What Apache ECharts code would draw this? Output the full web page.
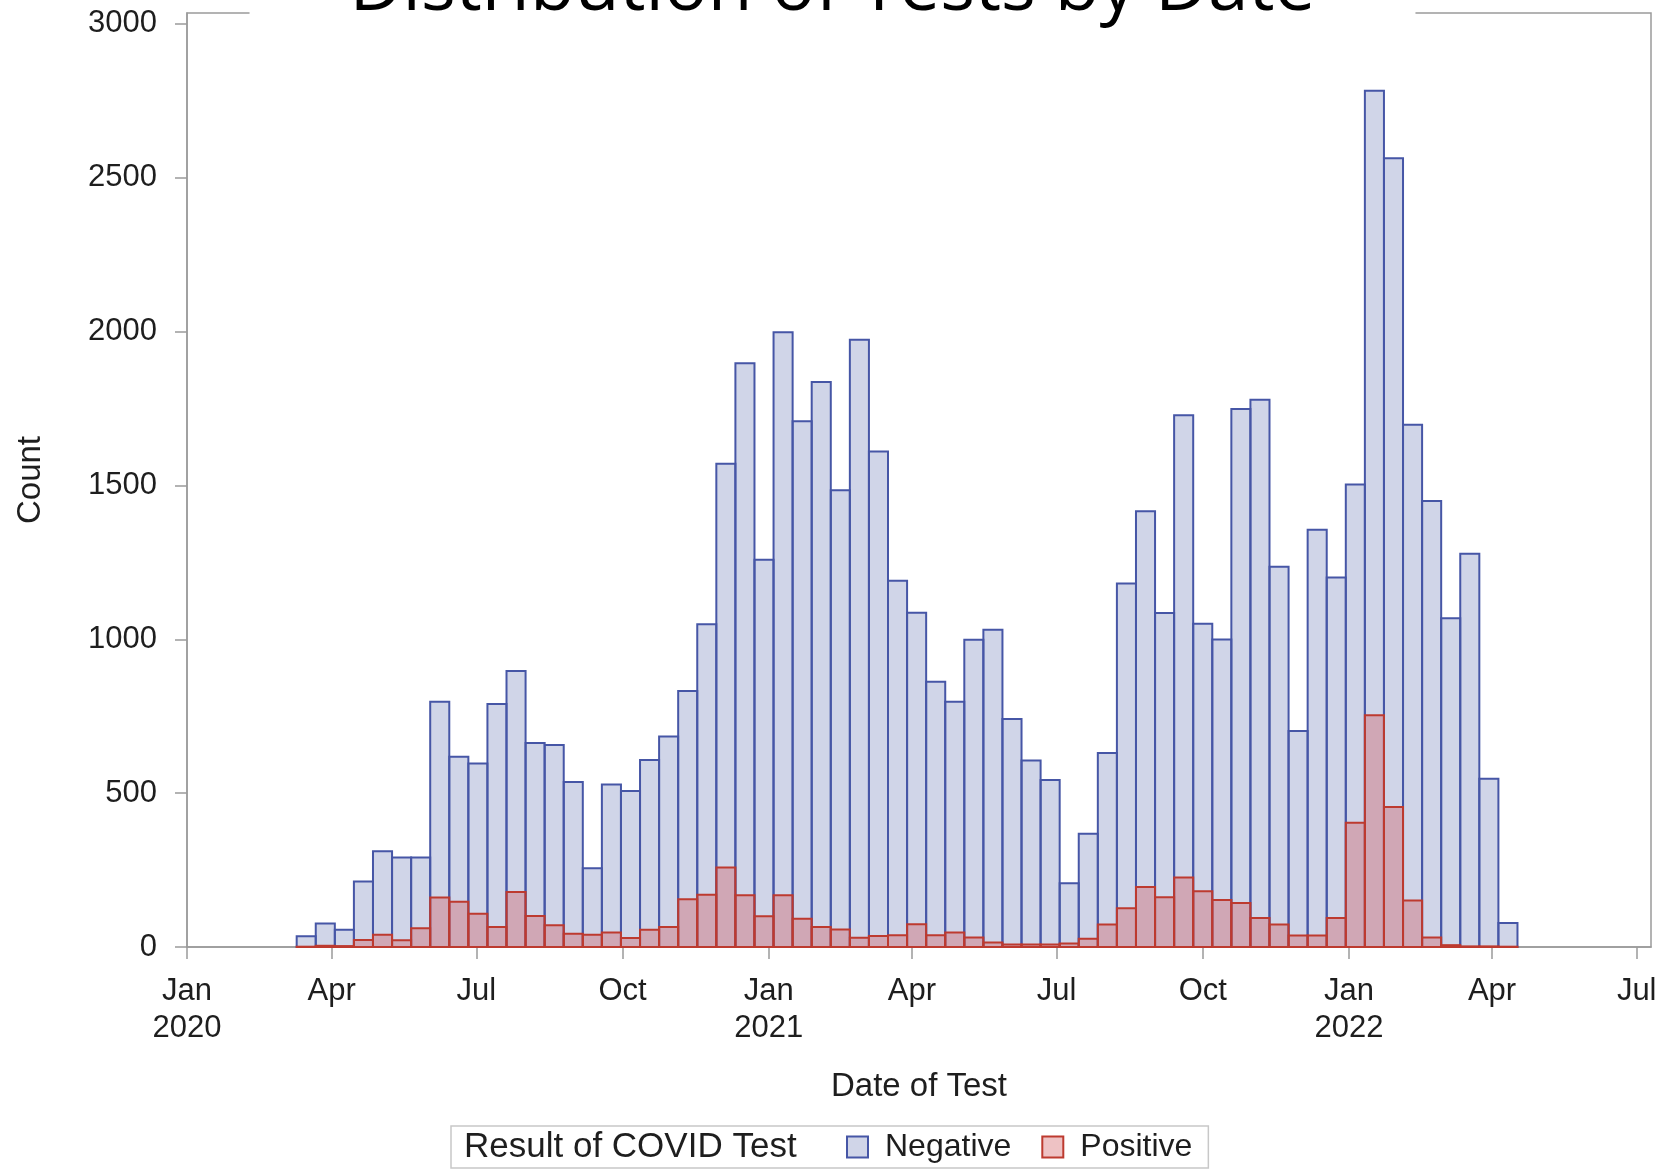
<!DOCTYPE html>
<html>
<head>
<meta charset="utf-8">
<title>Distribution of Tests by Date</title>
<script src="https://cdn.jsdelivr.net/npm/echarts@6/dist/echarts.min.js"></script>
<style>
  html, body { margin: 0; padding: 0; background: #fff; }
  #chart { width: 1665px; height: 1171px; }
</style>
</head>
<body>
<div id="chart"></div>
<script>
// Histogram bin edges (12-day bins), one more edge than bins
const binEdges = [
  '2020-03-10','2020-03-22','2020-04-03','2020-04-15','2020-04-27','2020-05-09','2020-05-21','2020-06-02',
  '2020-06-14','2020-06-26','2020-07-08','2020-07-20','2020-08-01','2020-08-13','2020-08-25','2020-09-06',
  '2020-09-18','2020-09-30','2020-10-12','2020-10-24','2020-11-05','2020-11-17','2020-11-29','2020-12-11',
  '2020-12-23','2021-01-04','2021-01-16','2021-01-28','2021-02-09','2021-02-21','2021-03-05','2021-03-17',
  '2021-03-29','2021-04-10','2021-04-22','2021-05-04','2021-05-16','2021-05-28','2021-06-09','2021-06-21',
  '2021-07-03','2021-07-15','2021-07-27','2021-08-08','2021-08-20','2021-09-01','2021-09-13','2021-09-25',
  '2021-10-07','2021-10-19','2021-10-31','2021-11-12','2021-11-24','2021-12-06','2021-12-18','2021-12-30',
  '2022-01-11','2022-01-23','2022-02-04','2022-02-16','2022-02-28','2022-03-12','2022-03-24','2022-04-05',
  '2022-04-17'
];

// Counts per bin
const negativeCounts = [
  35, 76, 56, 213, 311, 291, 291, 797, 618, 596, 790, 897, 663, 656, 536, 256,
  528, 507, 608, 684, 832, 1049, 1570, 1897, 1258, 1998, 1708, 1836, 1484, 1973, 1610, 1190,
  1086, 862, 797, 998, 1031, 741, 606, 543, 207, 368, 630, 1181, 1416, 1085, 1728, 1050,
  999, 1748, 1778, 1236, 702, 1356, 1201, 1503, 2782, 2563, 1697, 1449, 1068, 1278, 547, 78
];
const positiveCounts = [
  1, 4, 3, 23, 40, 22, 61, 161, 147, 108, 65, 179, 101, 71, 43, 40,
  47, 29, 56, 65, 155, 170, 258, 168, 100, 168, 92, 65, 57, 30, 36, 38,
  74, 38, 47, 31, 15, 8, 8, 8, 11, 27, 73, 126, 195, 162, 226, 181,
  153, 143, 94, 73, 37, 37, 94, 404, 753, 455, 151, 31, 6, 2, 2, 1
];

// Axis ticks
const dateTicks = ['2020-01-01','2020-04-01','2020-07-01','2020-10-01','2021-01-01','2021-04-01',
                   '2021-07-01','2021-10-01','2022-01-01','2022-04-01','2022-07-01'];
const countTicks = [0, 500, 1000, 1500, 2000, 2500, 3000];
const monthNames = ['Jan','Feb','Mar','Apr','May','Jun','Jul','Aug','Sep','Oct','Nov','Dec'];

const FONT = 'Liberation Sans, Arial, sans-serif';
const TEXT_COLOR = '#1e1e1e';
const AXIS_COLOR = '#9b9b9b';

const NEG_FILL = 'rgba(112,128,184,0.33)';
const NEG_LINE = '#4656a6';
const POS_FILL = 'rgba(208,86,92,0.36)';
const POS_LINE = '#bd3a2f';

function binData(counts) {
  return counts.map((c, i) => [Date.parse(binEdges[i]), Date.parse(binEdges[i + 1]), c]);
}

function renderBin(params, api) {
  const topLeft = api.coord([api.value(0), api.value(2)]);
  const bottomRight = api.coord([api.value(1), 0]);
  return {
    type: 'rect',
    shape: {
      x: topLeft[0],
      y: topLeft[1],
      width: bottomRight[0] - topLeft[0],
      height: bottomRight[1] - topLeft[1]
    },
    style: api.style()
  };
}

const chart = echarts.init(document.getElementById('chart'), null, { renderer: 'canvas' });

chart.setOption({
  animation: false,
  backgroundColor: '#ffffff',
  title: {
    text: 'Distribution of Tests by Date',
    left: 'center',
    top: -47,
    padding: [0, 100, 0, 100],
    backgroundColor: '#ffffff',
    textStyle: {
      fontFamily: 'Open Sans, sans-serif',
      fontSize: 73,
      fontWeight: 'normal',
      color: '#000000'
    }
  },
  grid: {
    left: 187,
    right: 14,
    top: 13,
    bottom: 224,
    show: true,
    borderColor: AXIS_COLOR,
    borderWidth: 1.5,
    outerBoundsMode: 'none'
  },
  legend: {
    left: 451,
    top: 1126,
    orient: 'horizontal',
    padding: [5, 16, 5, 395],
    borderColor: '#c8c8c8',
    borderWidth: 1.5,
    itemWidth: 21,
    itemHeight: 21,
    itemGap: 30,
    icon: 'rect',
    textStyle: {
      fontFamily: FONT,
      fontSize: 32,
      color: TEXT_COLOR,
      padding: [0, 0, 0, 12]
    },
    data: [
      { name: 'Negative', itemStyle: { color: NEG_FILL, borderColor: NEG_LINE, borderWidth: 2 } },
      { name: 'Positive', itemStyle: { color: POS_FILL, borderColor: POS_LINE, borderWidth: 2 } }
    ]
  },
  graphic: [
    {
      type: 'text',
      left: 464,
      top: 1130,
      style: {
        text: 'Result of COVID Test',
        font: '35px ' + FONT,
        fill: TEXT_COLOR
      }
    }
  ],
  xAxis: {
    type: 'value',
    min: Date.UTC(2020, 0, 1),
    max: Date.UTC(2022, 6, 10),
    name: 'Date of Test',
    nameLocation: 'middle',
    nameGap: 123,
    nameTextStyle: { fontFamily: FONT, fontSize: 33, color: TEXT_COLOR },
    axisLine: { show: true, lineStyle: { color: AXIS_COLOR, width: 1.5 } },
    axisTick: {
      show: true,
      length: 12,
      lineStyle: { color: AXIS_COLOR, width: 1.5 },
      customValues: dateTicks.map(d => Date.parse(d))
    },
    axisLabel: {
      customValues: dateTicks.map(d => Date.parse(d)),
      margin: 26,
      fontFamily: FONT,
      fontSize: 31,
      lineHeight: 37,
      color: TEXT_COLOR,
      formatter: function (v) {
        const d = new Date(v);
        const m = d.getUTCMonth();
        return m === 0 ? monthNames[m] + '\n' + d.getUTCFullYear() : monthNames[m];
      }
    },
    splitLine: { show: false }
  },
  yAxis: {
    type: 'value',
    min: 0,
    max: 3035,
    name: 'Count',
    nameLocation: 'middle',
    nameGap: 140,
    nameTextStyle: { fontFamily: FONT, fontSize: 33, color: TEXT_COLOR },
    axisLine: { show: true, lineStyle: { color: AXIS_COLOR, width: 1.5 } },
    axisTick: {
      show: true,
      length: 12,
      lineStyle: { color: AXIS_COLOR, width: 1.5 },
      customValues: countTicks
    },
    axisLabel: {
      customValues: countTicks,
      margin: 30,
      fontFamily: FONT,
      fontSize: 31,
      color: TEXT_COLOR,
      formatter: function (v) { return String(v); }
    },
    splitLine: { show: false }
  },
  series: [
    {
      name: 'Negative',
      type: 'custom',
      renderItem: renderBin,
      encode: { x: [0, 1], y: 2 },
      itemStyle: { color: NEG_FILL, borderColor: NEG_LINE, borderWidth: 2 },
      data: binData(negativeCounts)
    },
    {
      name: 'Positive',
      type: 'custom',
      renderItem: renderBin,
      encode: { x: [0, 1], y: 2 },
      itemStyle: { color: POS_FILL, borderColor: POS_LINE, borderWidth: 2 },
      data: binData(positiveCounts)
    }
  ]
});
</script>
</body>
</html>
